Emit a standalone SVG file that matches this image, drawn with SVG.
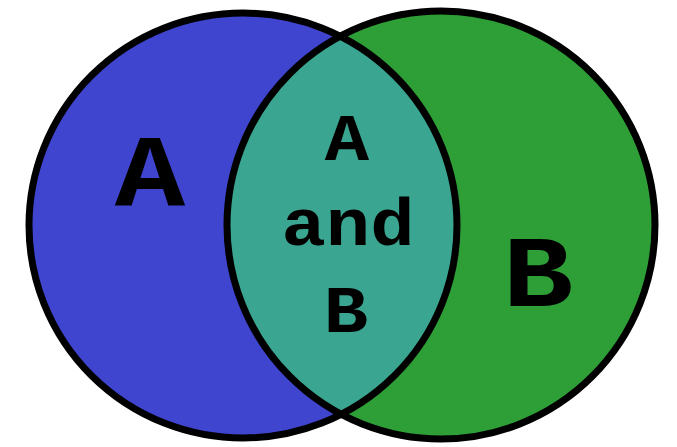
<svg xmlns="http://www.w3.org/2000/svg" width="677" height="447" viewBox="0 0 677 447">
  <style>
    .outline { fill: none; stroke: #000; stroke-width: 7; }
    .lbl { font-family: "Liberation Mono", "Courier New", monospace; font-weight: bold; fill: #000; text-anchor: middle; }
    .big { font-size: 102px; }
    .mid { font-size: 66px; }
  </style>
  <defs>
    <clipPath id="clipA">
      <ellipse cx="243" cy="225.5" rx="214" ry="212.5"/>
    </clipPath>
  </defs>
  <rect width="677" height="447" fill="#ffffff"/>
  <g id="setA">
    <ellipse cx="243" cy="225.5" rx="214" ry="212.5" fill="#4045CF"/>
  </g>
  <g id="setB">
    <ellipse cx="441" cy="225" rx="214" ry="214" fill="#2E9E36"/>
  </g>
  <g id="intersection">
    <ellipse cx="441" cy="225" rx="214" ry="214" fill="#3AA590" clip-path="url(#clipA)"/>
  </g>
  <g id="outlines">
    <ellipse class="outline" cx="243" cy="225.5" rx="214" ry="212.5"/>
    <ellipse class="outline" cx="441" cy="225" rx="214" ry="214"/>
  </g>
  <g id="labels">
    <text class="lbl big" transform="translate(150,205) scale(1.15,1)">A</text>
    <text class="lbl big" transform="translate(538,306) scale(1.15,1)">B</text>
    <text class="lbl mid" transform="translate(347,160) scale(1.12,1)">A</text>
    <text class="lbl mid" transform="translate(348,245) scale(1.12,1)">and</text>
    <text class="lbl mid" transform="translate(346,332) scale(1.12,1)">B</text>
  </g>
</svg>
